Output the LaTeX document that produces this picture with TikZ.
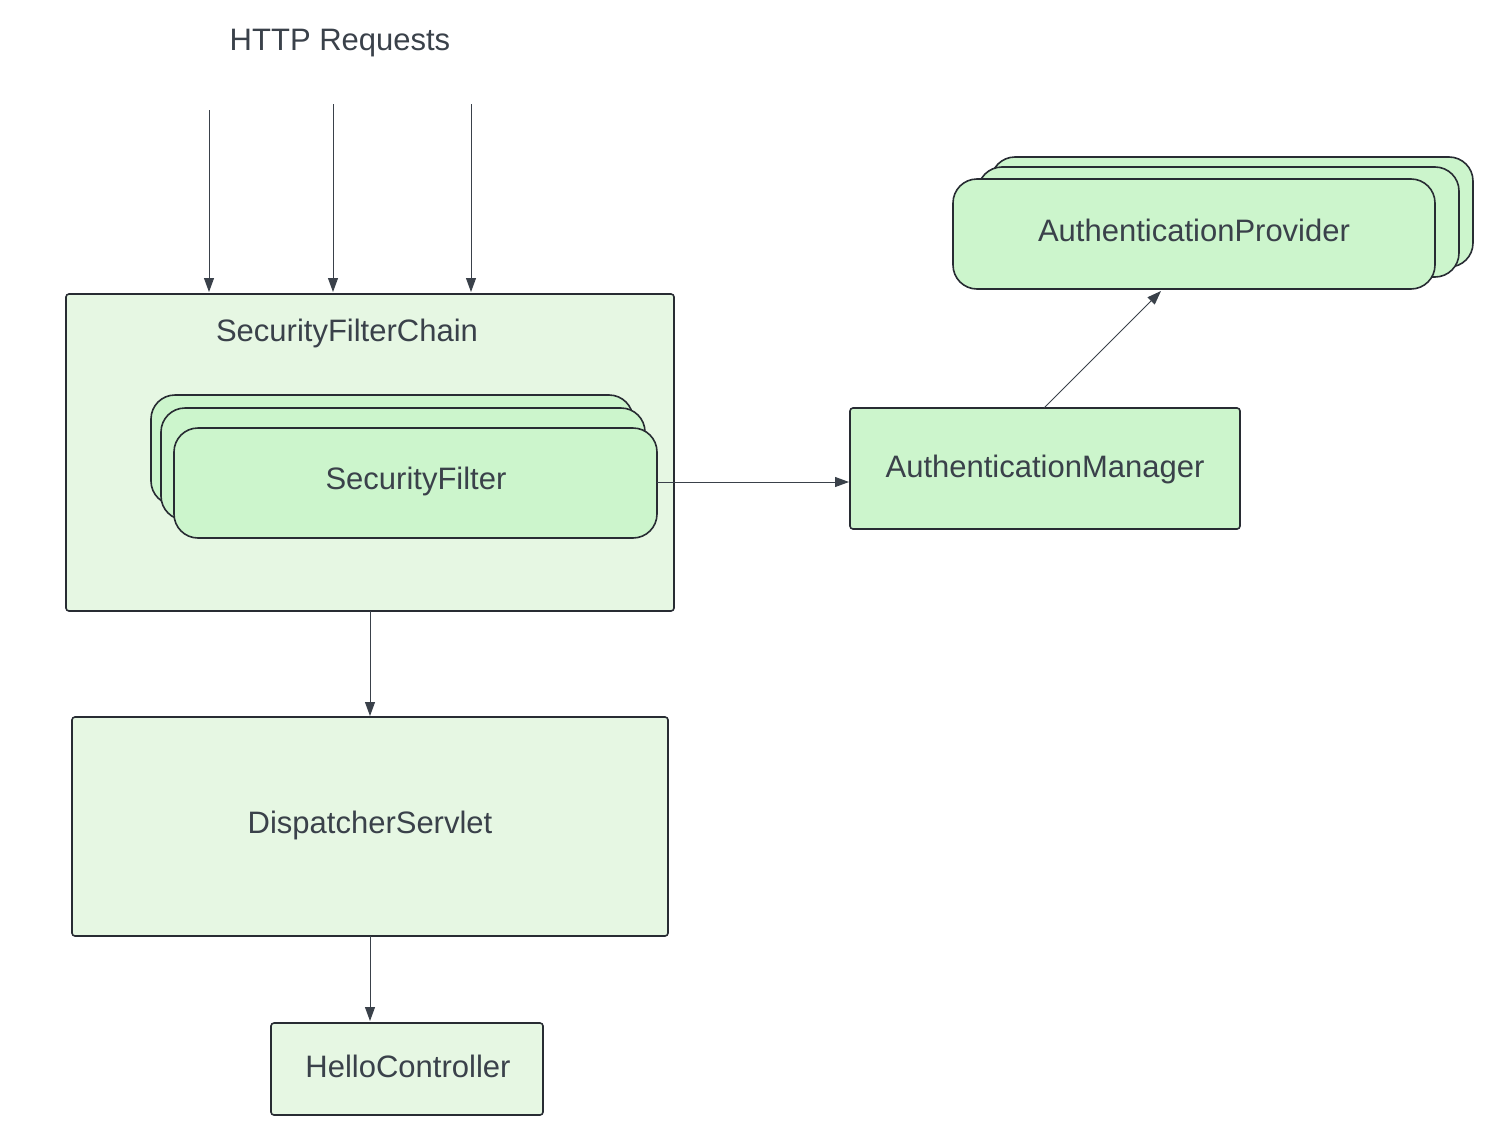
\documentclass[tikz,border=0pt]{standalone}
\usepackage{fontspec}
\setmainfont{Liberation Sans}
\usetikzlibrary{arrows.meta}
\definecolor{txt}{HTML}{3A414A}
\definecolor{edge}{HTML}{282C33}
\definecolor{light}{HTML}{E6F7E3}
\definecolor{mid}{HTML}{CCF5CC}
\begin{document}
\begin{tikzpicture}[x=1pt,y=-1pt,
  box/.style={draw=edge,line width=1.6pt,rounded corners=3pt},
  lightbox/.style={box,fill=light},
  midbox/.style={box,fill=mid},
  pill/.style={draw=edge,line width=1.6pt,rounded corners=24pt,fill=mid},
  lbl/.style={text=txt,font=\fontsize{31}{37}\selectfont,inner sep=0pt},
  conn/.style={draw=txt,line width=0.9pt,-{Triangle[width=10pt,length=14pt]}}]
\useasboundingbox (0,0) rectangle (1496,1140);
% HTTP label
\node[lbl] (http) at (340,43) {HTTP Requests};
% SecurityFilterChain
\draw[lightbox] (66,294) rectangle (674,611);
\node[lbl] (sfc) at (347,333) {SecurityFilterChain};
% SecurityFilter stack
\draw[pill] (151,395) rectangle (633,505);
\draw[pill] (161,408) rectangle (645,520);
\draw[pill] (174,428) rectangle (657,538);
\node[lbl] (sf) at (416,481) {SecurityFilter};
% AuthenticationManager
\draw[midbox] (850,408) rectangle (1240,529);
\node[lbl] (am) at (1045,469) {AuthenticationManager};
% AuthenticationProvider stack
\draw[pill] (991,157) rectangle (1473,267);
\draw[pill] (978,167) rectangle (1459,277);
\draw[pill] (953,179) rectangle (1435,289);
\node[lbl] (ap) at (1194,230) {AuthenticationProvider};
% DispatcherServlet
\draw[lightbox] (72,717) rectangle (668,936);
\node[lbl] (ds) at (370,825) {DispatcherServlet};
% HelloController
\draw[lightbox] (271,1023) rectangle (543,1115);
\node[lbl] (hc) at (408,1066) {HelloController};
% connector coordinates
\coordinate (r1s) at (209,110);
\coordinate (r1e) at (209,292);
\coordinate (r2s) at (333,104);
\coordinate (r2e) at (333,292);
\coordinate (r3s) at (471,104);
\coordinate (r3e) at (471,292);
\coordinate (sfcb) at (370,611);
\coordinate (dst) at (370,716);
\coordinate (dsb) at (370,936);
\coordinate (hct) at (370,1021);
\coordinate (sfr) at (657,482);
\coordinate (aml) at (849,482);
\coordinate (amt) at (1044,408);
\coordinate (apb) at (1161,291);
\draw[conn] (r1s) -- (r1e);
\draw[conn] (r2s) -- (r2e);
\draw[conn] (r3s) -- (r3e);
\draw[conn] (sfcb) -- (dst);
\draw[conn] (dsb) -- (hct);
\draw[conn] (sfr) -- (aml);
\draw[conn] (amt) -- (apb);
\end{tikzpicture}
\end{document}
